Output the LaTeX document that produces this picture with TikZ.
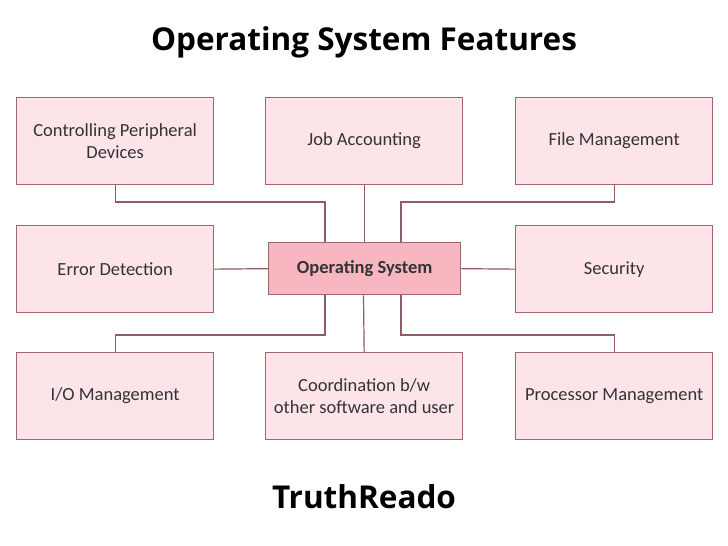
\documentclass[tikz,border=0pt]{standalone}
\usepackage{fontspec}
\setmainfont{Carlito}
\newfontfamily\titlefont{Open Sans}
\definecolor{boxfill}{HTML}{FDE4E8}
\definecolor{boxdraw}{HTML}{A0666E}
\definecolor{osfill}{HTML}{F7B6C0}
\definecolor{linecol}{HTML}{8E5C62}
\definecolor{txt}{HTML}{333333}
\begin{document}
\begin{tikzpicture}[x=1pt,y=-1pt,
  feat/.style={draw=boxdraw,fill=boxfill,line width=1.3pt,minimum width=197pt,minimum height=87pt,inner sep=0pt,align=center,text=txt,font=\fontsize{18.5}{22}\selectfont,anchor=north west},
  osbox/.style={draw=boxdraw,fill=osfill,line width=1.3pt,minimum width=192pt,minimum height=52pt,inner sep=0pt,align=center,text=txt,font=\fontsize{18.5}{22}\selectfont\bfseries,anchor=north west},
  conn/.style={draw=linecol,line width=1.2pt},
  ttl/.style={font=\titlefont\fontsize{31.5}{36}\selectfont\bfseries,text=black}]
\useasboundingbox (0,0) rectangle (728,546);
\fill[white] (0,0) rectangle (728,546);
\node[ttl] (title) at (364,42) {Operating System Features};
\node[ttl] (brand) at (364,497) {TruthReado};
% boxes
\node[feat] (cpd) at (16,97) {Controlling Peripheral\\Devices};
\node[feat] (job) at (265,97) {Job Accounting};
\node[feat] (file) at (515,97) {File Management};
\node[feat] (err) at (16,225) {Error Detection};
\node[feat] (sec) at (515,225) {Security};
\node[feat] (io) at (16,352) {I/O Management};
\node[feat] (coord) at (265,352) {Coordination b/w\\other software and user};
\node[feat] (proc) at (515,352) {Processor Management};
\node[osbox] (os) at (268,242) {Operating System};
% connectors
\draw[conn] (cpd.south) |- (325,202) -- (os.north -| 325,0);
\draw[conn] (job.south) -- (job.south |- os.north);
\draw[conn] (file.south) |- (401,202) -- (os.north -| 401,0);
\draw[conn] (err.east) -- (os.west);
\draw[conn] (os.east) -- (sec.west);
\draw[conn] (os.south -| 325,0) -- (325,335) -| (io.north);
\draw[conn] (os.south -| 363.5,0) -- (coord.north);
\draw[conn] (os.south -| 401,0) -- (401,335) -| (proc.north);
\end{tikzpicture}
\end{document}
